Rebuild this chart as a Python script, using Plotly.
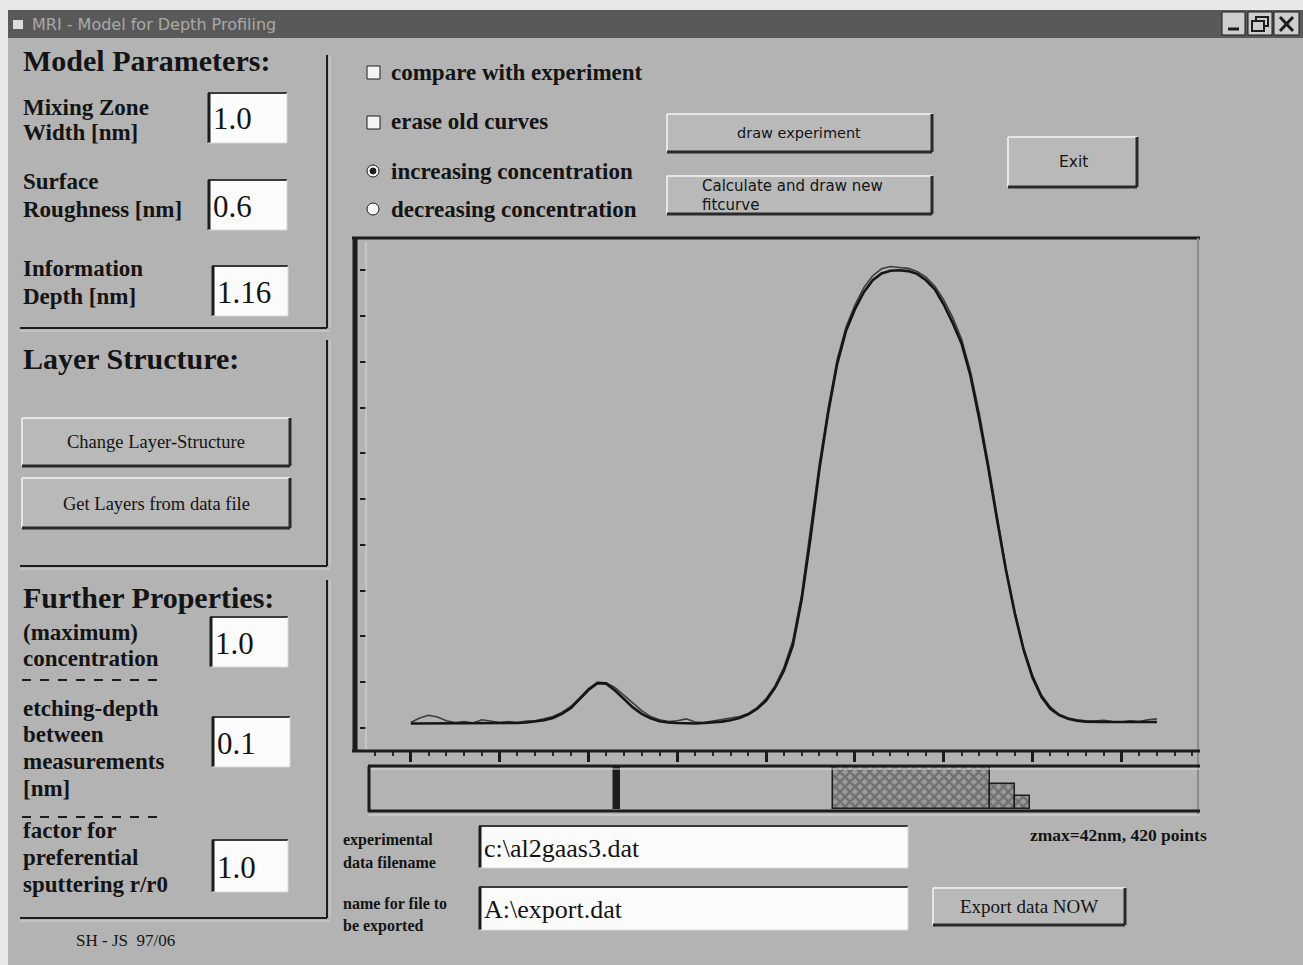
import plotly.graph_objects as go

W, H = 1303, 965


def X(p):
    return p / W


def Y(p):
    return 1 - p / H


# ---------------- data ----------------
depth_nm = [
    0.0, 0.5, 1.0, 1.5, 2.0, 2.5, 3.0, 3.5, 4.0, 4.5,
    5.0, 5.5, 6.0, 6.5, 7.0, 7.5, 8.0, 8.5, 9.0, 9.5,
    10.0, 10.5, 11.0, 11.5, 12.0, 12.5, 13.0, 13.5, 14.0, 14.5,
    15.0, 15.5, 16.0, 16.5, 17.0, 17.5, 18.0, 18.5, 19.0, 19.5,
    20.0, 20.5, 21.0, 21.5, 22.0, 22.5, 23.0, 23.5, 24.0, 24.5,
    25.0, 25.5, 26.0, 26.5, 27.0, 27.5, 28.0, 28.5, 29.0, 29.5,
    30.0, 30.5, 31.0, 31.5, 32.0, 32.5, 33.0, 33.5, 34.0, 34.5,
    35.0, 35.5, 36.0, 36.5, 37.0, 37.5, 38.0, 38.5, 39.0, 39.5,
    40.0, 40.5, 41.0, 41.5, 42.0,
]

experiment_conc = [
    0.012, 0.022, 0.028, 0.024, 0.016, 0.012, 0.014, 0.011, 0.018, 0.015,
    0.012, 0.014, 0.012, 0.015, 0.016, 0.020, 0.025, 0.034, 0.047, 0.066,
    0.086, 0.100, 0.099, 0.088, 0.072, 0.054, 0.038, 0.025, 0.018, 0.014,
    0.016, 0.020, 0.013, 0.012, 0.015, 0.018, 0.021, 0.025, 0.032, 0.045,
    0.064, 0.092, 0.132, 0.190, 0.292, 0.430, 0.578, 0.700, 0.805, 0.876,
    0.924, 0.962, 0.988, 1.003, 1.008, 1.006, 1.004, 0.997, 0.985, 0.965,
    0.935, 0.897, 0.850, 0.780, 0.688, 0.580, 0.462, 0.350, 0.255, 0.175,
    0.115, 0.072, 0.046, 0.030, 0.022, 0.018, 0.016, 0.015, 0.017, 0.014,
    0.013, 0.016, 0.014, 0.018, 0.020,
]

fit_conc = [
    0.010, 0.010, 0.010, 0.010, 0.010, 0.010, 0.010, 0.010, 0.010, 0.010,
    0.010, 0.011, 0.011, 0.012, 0.014, 0.017, 0.022, 0.031, 0.043, 0.062,
    0.083, 0.098, 0.097, 0.082, 0.063, 0.045, 0.031, 0.021, 0.015, 0.012,
    0.011, 0.010, 0.010, 0.011, 0.012, 0.014, 0.017, 0.022, 0.030, 0.042,
    0.060, 0.088, 0.125, 0.180, 0.280, 0.415, 0.565, 0.690, 0.795, 0.868,
    0.915, 0.952, 0.978, 0.993, 0.999, 1.000, 0.998, 0.992, 0.978, 0.958,
    0.925, 0.885, 0.840, 0.770, 0.675, 0.570, 0.455, 0.345, 0.250, 0.170,
    0.110, 0.068, 0.042, 0.028, 0.020, 0.016, 0.014, 0.013, 0.013, 0.013,
    0.013, 0.013, 0.013, 0.013, 0.013,
]

# layer structure: thin marker layer, thick layer with graded end steps
layer_center_nm = [11.6, 28.17, 33.3, 34.43]
layer_width_nm = [0.3, 8.85, 1.41, 0.85]
layer_conc = [1.0, 1.0, 0.6, 0.3]

param_labels = [
    ["Mixing Zone", "Width [nm]"],
    ["Surface", "Roughness [nm]"],
    ["Information", "Depth [nm]"],
    ["(maximum)", "concentration"],
    ["etching-depth", "between", "measurements", "[nm]"],
    ["factor for", "preferential", "sputtering r/r0"],
]
param_values = ["1.0", "0.6", "1.16", "1.0", "0.1", "1.0"]

# ---------------- styling helpers ----------------
BG = "#b3b3b3"
DARK = "#1c1c1c"
LIGHT = "#e6e6e6"
SERIF = "Liberation Serif"
SANS = "DejaVu Sans"

shapes = []
annots = []


def ln(x0, y0, x1, y1, c=DARK, w=2, dash="solid"):
    shapes.append(dict(type="line", xref="paper", yref="paper",
                       x0=X(x0), y0=Y(y0), x1=X(x1), y1=Y(y1),
                       line=dict(color=c, width=w, dash=dash)))


def rc(x0, y0, x1, y1, fill, c=None, w=0):
    shapes.append(dict(type="rect", xref="paper", yref="paper",
                       x0=X(x0), y0=Y(y0), x1=X(x1), y1=Y(y1),
                       fillcolor=fill, line=dict(color=c or fill, width=w)))


def circ(x0, y0, x1, y1, fill, c=DARK, w=1):
    shapes.append(dict(type="circle", xref="paper", yref="paper",
                       x0=X(x0), y0=Y(y0), x1=X(x1), y1=Y(y1),
                       fillcolor=fill, line=dict(color=c, width=w)))


def tx(x, y, s, size, fam=SERIF, color="#141414", xa="left", ya="middle"):
    annots.append(dict(x=X(x), y=Y(y), xref="paper", yref="paper", text=s,
                       showarrow=False, xanchor=xa, yanchor=ya,
                       font=dict(family=fam, size=size, color=color)))


def textbox(x0, y0, x1, y1, s, size=31):
    rc(x0, y0, x1, y1, "#fbfbfb")
    ln(x0, y0, x1, y0, "#3a3a3a", 2)
    ln(x0 + 1, y0, x0 + 1, y1, DARK, 3)
    ln(x1, y0, x1, y1, "#d8d8d8", 1)
    ln(x0, y1, x1, y1, "#d8d8d8", 1)
    tx(x0 + 3, (y0 + y1) / 2 + 1, s, size)


def button(x0, y0, x1, y1):
    rc(x0, y0, x1, y1, "#b9b9b9")
    ln(x0, y0, x1, y0, LIGHT, 2)
    ln(x0, y0, x0, y1, LIGHT, 2)
    ln(x0, y1, x1, y1, "#2a2a2a", 3)
    ln(x1, y0, x1, y1, "#2a2a2a", 3)


# ---------------- window chrome ----------------
rc(0, 0, W, 10, "#e8e8e8")
rc(0, 0, 8, H, "#e8e8e8")
rc(8, 10, W, 38, "#595959")
rc(13, 20, 23, 29, "#dcdcdc")
tx(30, 25, "MRI - Model for Depth Profiling", 16, SANS, "#a9a9a9")
for bx0, bx1 in [(1222, 1245), (1248, 1272), (1274, 1299)]:
    rc(bx0, 12, bx1, 35, "#cdcdcd", DARK, 1)
ln(1228, 29, 1239, 29, DARK, 3)
rc(1256, 17, 1268, 26, "#cdcdcd", DARK, 2)
rc(1252, 21, 1264, 31, "#cdcdcd", DARK, 2)
ln(1280, 17, 1293, 31, DARK, 3)
ln(1280, 31, 1293, 17, DARK, 3)

# ---------------- left panels ----------------
tx(21, 60, "<b>Model Parameters:</b>", 30)
tx(21, 358, "<b>Layer Structure:</b>", 30)
tx(21, 597, "<b>Further Properties:</b>", 30)

for (yt, yb) in [(55, 328), (340, 566), (580, 918)]:
    ln(327, yt, 327, yb, DARK, 2)
    ln(330, yt, 330, yb, "#d2d2d2", 1)
    ln(20, yb, 327, yb, DARK, 2)
    ln(20, yb + 3, 330, yb + 3, "#d2d2d2", 1)

label_y = [[107, 133], [182, 209], [268, 296], [632, 658],
           [708, 734, 761, 788], [830, 857, 884]]
boxes = [(208, 93, 287, 143), (208, 180, 287, 230), (212, 266, 288, 316),
         (210, 617, 288, 667), (212, 717, 290, 767), (212, 840, 288, 892)]
for lines, ys, box, val in zip(param_labels, label_y, boxes, param_values):
    for s, yy in zip(lines, ys):
        tx(21, yy, "<b>" + s + "</b>", 23)
    textbox(*box, val)

ln(22, 680, 163, 680, DARK, 2, "dash")
ln(22, 817, 163, 817, DARK, 2, "dash")

button(22, 418, 290, 466)
tx(156, 442, "Change Layer-Structure", 18.5, xa="center")
button(22, 478, 290, 528)
tx(156, 504, "Get Layers from data file", 18.5, xa="center")

tx(74, 940, "SH - JS  97/06", 17)

# ---------------- top right controls ----------------
rc(367, 66, 380, 79, "#f4f4f4", DARK, 1)
tx(389, 72, "<b>compare with experiment</b>", 23)
rc(367, 116, 380, 129, "#f4f4f4", DARK, 1)
tx(389, 122, "<b>erase old curves</b>", 23)
circ(367, 165, 379, 177, "#f4f4f4")
circ(370, 168, 376, 174, DARK)
tx(389, 171, "<b>increasing concentration</b>", 23)
circ(367, 203, 379, 215, "#f4f4f4")
tx(389, 209, "<b>decreasing concentration</b>", 23)

button(667, 114, 932, 152)
tx(799, 133, "draw experiment", 14.5, SANS, xa="center")
button(667, 176, 932, 214)
tx(700, 186, "Calculate and draw new", 15, SANS)
tx(700, 205, "fitcurve", 15, SANS)
button(1008, 137, 1137, 187)
tx(1073, 162, "Exit", 15.5, SANS, xa="center")

# ---------------- chart frame ----------------
ln(352, 238, 1200, 238, DARK, 3)
ln(355, 238, 355, 752, DARK, 5)
ln(366, 242, 366, 750, "#dadada", 1)
ln(1198, 238, 1198, 815, "#8a8a8a", 2)
ln(352, 751, 1200, 751, DARK, 3)
ln(368, 766, 1200, 766, DARK, 3)
ln(368, 769, 1200, 769, "#dadada", 1)
ln(369, 766, 369, 812, DARK, 3)
ln(368, 811, 1200, 811, DARK, 3)
ln(368, 815, 1200, 815, "#dadada", 1)

# ---------------- bottom fields ----------------
tx(341, 840, "<b>experimental</b>", 16)
tx(341, 862, "<b>data filename</b>", 16)
textbox(479, 826, 908, 868, "c:\\al2gaas3.dat", 26)
tx(1209, 835, "<b>zmax=42nm, 420 points</b>", 17.5, xa="right")
tx(341, 903, "<b>name for file to</b>", 16)
tx(341, 926, "<b>be exported</b>", 16)
textbox(479, 887, 908, 930, "A:\\export.dat", 26)
button(933, 888, 1125, 925)
tx(1029, 906, "Export data NOW", 19, xa="center")

# ---------------- traces ----------------
fig = go.Figure()
fig.add_trace(go.Scatter(x=depth_nm, y=experiment_conc, mode="lines",
                         line=dict(color="#3c3c3c", width=1.6),
                         name="experiment", xaxis="x", yaxis="y"))
fig.add_trace(go.Scatter(x=depth_nm, y=fit_conc, mode="lines",
                         line=dict(color="#151515", width=2.6),
                         name="fit", xaxis="x", yaxis="y"))
fig.add_trace(go.Bar(
    x=layer_center_nm, y=layer_conc, width=layer_width_nm,
    marker=dict(
        color=["#1c1c1c", "#9c9c9c", "#9c9c9c", "#9c9c9c"],
        line=dict(color="#1c1c1c", width=1.5),
        pattern=dict(shape=["", "x", "x", "x"],
                     fgcolor="#0d0d0d",
                     bgcolor=["#1c1c1c", "#b6b6b6", "#b6b6b6", "#b6b6b6"],
                     size=7, solidity=0.6)),
    xaxis="x2", yaxis="y2", name="layers"))

xr = [-2.86, 44.2]
fig.update_layout(
    width=W, height=H,
    margin=dict(l=0, r=0, t=0, b=0),
    paper_bgcolor=BG, plot_bgcolor="rgba(0,0,0,0)",
    showlegend=False,
    bargap=0, barmode="overlay",
    xaxis=dict(domain=[X(360), X(1196)], range=xr, showgrid=False,
               zeroline=False, showticklabels=False, showline=False,
               ticks="outside", ticklen=11, tickwidth=3, tickcolor=DARK,
               tick0=0, dtick=5,
               minor=dict(ticks="outside", ticklen=5, tickwidth=2,
                          tickcolor="#2a2a2a", dtick=1, showgrid=False),
               anchor="y", fixedrange=True),
    yaxis=dict(domain=[Y(750), Y(240)], range=[-0.048, 1.066],
               showgrid=False, zeroline=False, showticklabels=False,
               showline=False, ticks="inside", ticklen=6, tickwidth=2,
               tickcolor=DARK, tick0=0, dtick=0.1, anchor="x",
               fixedrange=True),
    xaxis2=dict(domain=[X(360), X(1196)], range=xr, matches="x",
                showgrid=False, zeroline=False, showticklabels=False,
                ticks="", showline=False, anchor="y2", fixedrange=True),
    yaxis2=dict(domain=[Y(809), Y(767)], range=[0, 1.0], showgrid=False,
                zeroline=False, showticklabels=False, ticks="",
                showline=False, anchor="x2", fixedrange=True),
    shapes=shapes,
    annotations=annots,
)

fig.write_html("out.html", config={"displayModeBar": False},
               post_script="document.body.style.margin='0';")
